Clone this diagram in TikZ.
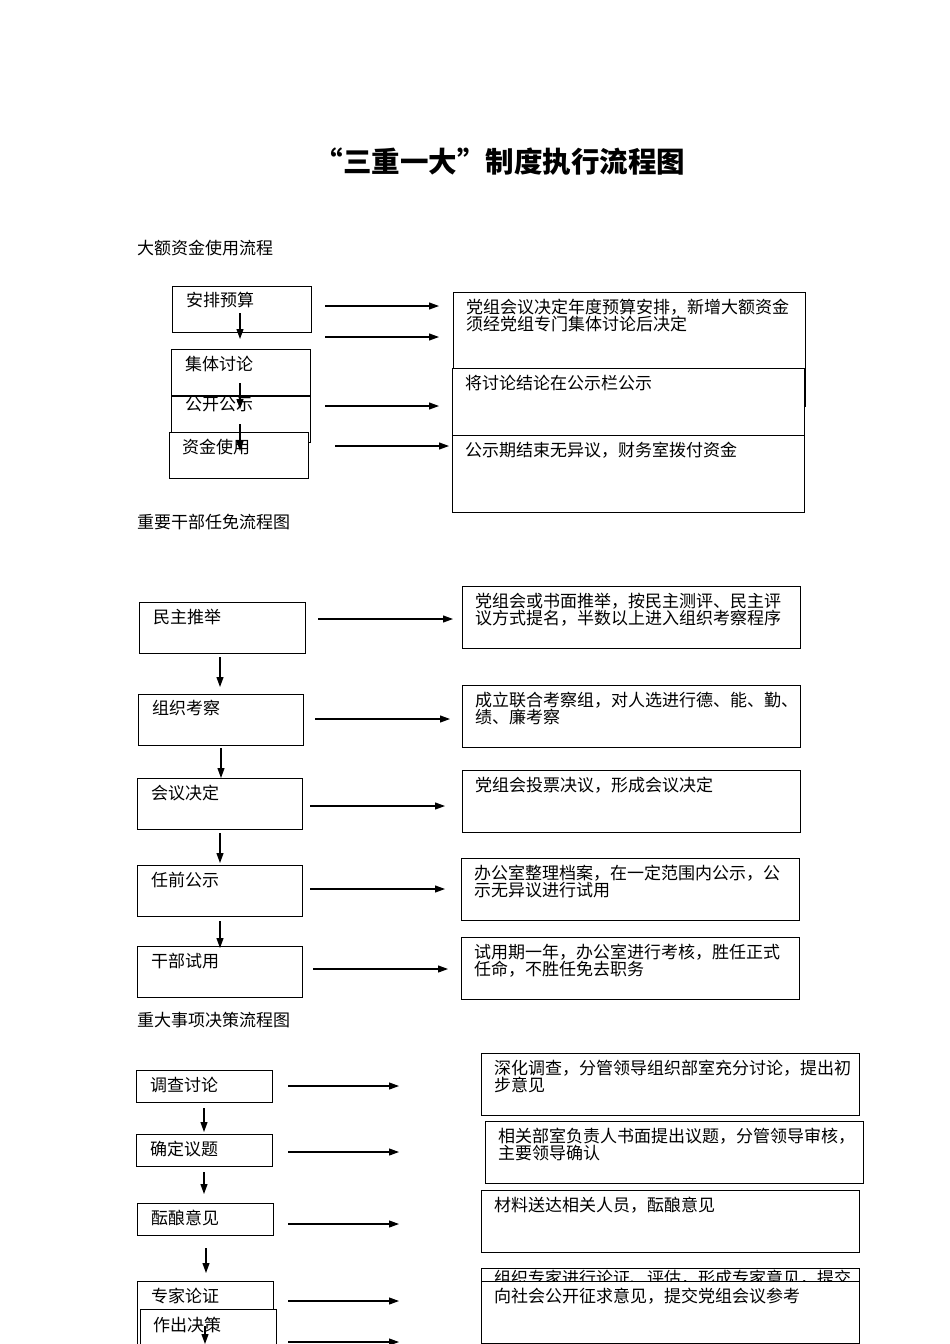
\documentclass[tikz,border=0pt]{standalone}
\usepackage{fontspec}
\setmainfont{Noto Sans CJK SC}
\usetikzlibrary{arrows.meta}
\begin{document}
\begin{tikzpicture}[x=1pt,y=-1pt,
  box/.style={draw, line width=1.1pt, fill=white, anchor=north west, inner sep=0pt, minimum width=#1},
  box/.default=139,
  txt/.style={anchor=base west, inner sep=0pt, align=left, font=\fontsize{17}{17}\selectfont},
  arr/.style={-{Triangle[length=10pt,width=7pt]}, line width=1.1pt}]
\useasboundingbox (0,0) rectangle (950,1344);
\clip (0,0) rectangle (950,1344);

% title and headers
\node[anchor=center, inner sep=0pt, font=\fontsize{28.5}{30}\selectfont\bfseries] (title) at (500,162) {“三重一大”制度执行流程图};
\node[txt] (h1) at (137,254) {大额资金使用流程};
\node[txt] (h2) at (137,528) {重要干部任免流程图};
\node[txt] (h3) at (137,1026) {重大事项决策流程图};

% ---------- section 1 ----------
\node[box, minimum height=46] (s1a) at (172,286) {};
\node[txt] (s1at) at (186,306) {安排预算};
\node[box, minimum height=46] (s1b) at (171,349) {};
\node[txt] (s1bt) at (185,370) {集体讨论};
\node[box, minimum height=46] (s1c) at (171,396) {};
\node[txt] (s1ct) at (185,410) {公开公示};
\node[box, minimum height=46] (s1d) at (169,432) {};
\node[txt] (s1dt) at (182,453) {资金使用};

\node[box=352, minimum height=114] (r1a) at (453,292) {};
\node[txt] (r1at) at (466,330) {党组会议决定年度预算安排，新增大额资金\\须经党组专门集体讨论后决定};
\node[box=352, minimum height=67] (r1b) at (452,368) {};
\node[txt] (r1bt) at (465,389) {将讨论结论在公示栏公示};
\node[box=352, minimum height=77] (r1c) at (452,435) {};
\node[txt] (r1ct) at (465,456) {公示期结束无异议，财务室拨付资金};

\coordinate (v1a) at (240,313); \coordinate (v1b) at (240,339);
\coordinate (v2a) at (240,383); \coordinate (v2b) at (240,409);
\coordinate (v3a) at (240,424); \coordinate (v3b) at (240,451);
\draw[arr] (v1a) -- (v1b);
\draw[arr] (v2a) -- (v2b);
\draw[arr] (v3a) -- (v3b);
\coordinate (h1a) at (325,306); \coordinate (h1b) at (439,306);
\coordinate (h2a) at (325,337); \coordinate (h2b) at (439,337);
\coordinate (h3a) at (325,406); \coordinate (h3b) at (439,406);
\coordinate (h4a) at (335,446); \coordinate (h4b) at (449,446);
\draw[arr] (h1a) -- (h1b);
\draw[arr] (h2a) -- (h2b);
\draw[arr] (h3a) -- (h3b);
\draw[arr] (h4a) -- (h4b);

% ---------- section 2 ----------
\node[box=166, minimum height=51] (s2a) at (139,602) {};
\node[txt] (s2at) at (153,623) {民主推举};
\node[box=165, minimum height=51] (s2b) at (138,694) {};
\node[txt] (s2bt) at (152,714) {组织考察};
\node[box=165, minimum height=51] (s2c) at (137,778) {};
\node[txt] (s2ct) at (151,799) {会议决定};
\node[box=165, minimum height=51] (s2d) at (137,865) {};
\node[txt] (s2dt) at (151,886) {任前公示};
\node[box=165, minimum height=51] (s2e) at (137,946) {};
\node[txt] (s2et) at (151,967) {干部试用};

\node[box=338, minimum height=62] (r2a) at (462,586) {};
\node[txt] (r2at) at (475,624) {党组会或书面推举，按民主测评、民主评\\议方式提名，半数以上进入组织考察程序};
\node[box=338, minimum height=62] (r2b) at (462,685) {};
\node[txt] (r2bt) at (475,723) {成立联合考察组，对人选进行德、能、勤、\\绩、廉考察};
\node[box=338, minimum height=62] (r2c) at (462,770) {};
\node[txt] (r2ct) at (475,791) {党组会投票决议，形成会议决定};
\node[box=338, minimum height=62] (r2d) at (461,858) {};
\node[txt] (r2dt) at (474,896) {办公室整理档案，在一定范围内公示，公\\示无异议进行试用};
\node[box=338, minimum height=62] (r2e) at (461,937) {};
\node[txt] (r2et) at (474,975) {试用期一年，办公室进行考核，胜任正式\\任命，不胜任免去职务};

\coordinate (w1a) at (220,657); \coordinate (w1b) at (220,687);
\coordinate (w2a) at (221,748); \coordinate (w2b) at (221,778);
\coordinate (w3a) at (220,833); \coordinate (w3b) at (220,863);
\coordinate (w4a) at (220,921); \coordinate (w4b) at (220,948);
\draw[arr] (w1a) -- (w1b);
\draw[arr] (w2a) -- (w2b);
\draw[arr] (w3a) -- (w3b);
\draw[arr] (w4a) -- (w4b);
\coordinate (g1a) at (318,619); \coordinate (g1b) at (453,619);
\coordinate (g2a) at (315,719); \coordinate (g2b) at (450,719);
\coordinate (g3a) at (310,806); \coordinate (g3b) at (445,806);
\coordinate (g4a) at (310,889); \coordinate (g4b) at (445,889);
\coordinate (g5a) at (313,969); \coordinate (g5b) at (448,969);
\draw[arr] (g1a) -- (g1b);
\draw[arr] (g2a) -- (g2b);
\draw[arr] (g3a) -- (g3b);
\draw[arr] (g4a) -- (g4b);
\draw[arr] (g5a) -- (g5b);

% ---------- section 3 ----------
\node[box=136, minimum height=32] (s3a) at (136,1070) {};
\node[txt] (s3at) at (150,1091) {调查讨论};
\node[box=136, minimum height=32] (s3b) at (136,1134) {};
\node[txt] (s3bt) at (150,1155) {确定议题};
\node[box=136, minimum height=32] (s3c) at (137,1203) {};
\node[txt] (s3ct) at (151,1224) {酝酿意见};
\node[box=136, minimum height=70] (s3d) at (137,1281) {};
\node[txt] (s3dt) at (151,1302) {专家论证};
\node[box=136, minimum height=45] (s3e) at (140,1309) {};
\node[txt] (s3et) at (153,1331) {作出决策};

\node[box=378, minimum height=62] (r3a) at (481,1053) {};
\node[txt] (r3at) at (494,1091) {深化调查，分管领导组织部室充分讨论，提出初\\步意见};
\node[box=378, minimum height=62] (r3b) at (485,1121) {};
\node[txt] (r3bt) at (498,1159) {相关部室负责人书面提出议题，分管领导审核，\\主要领导确认};
\node[box=378, minimum height=62] (r3c) at (481,1190) {};
\node[txt] (r3ct) at (494,1211) {材料送达相关人员，酝酿意见};
\node[box=378, minimum height=80] (r3d) at (481,1268) {};
\node[txt] (r3dt) at (494,1284) {组织专家进行论证、评估，形成专家意见，提交};
\node[box=378, minimum height=62] (r3e) at (481,1281) {};
\node[txt] (r3et) at (494,1302) {向社会公开征求意见，提交党组会议参考};

\coordinate (u1a) at (204,1108); \coordinate (u1b) at (204,1132);
\coordinate (u2a) at (204,1172); \coordinate (u2b) at (204,1194);
\coordinate (u3a) at (206,1248); \coordinate (u3b) at (206,1273);
\coordinate (u4a) at (205,1326); \coordinate (u4b) at (205,1344);
\draw[arr] (u1a) -- (u1b);
\draw[arr] (u2a) -- (u2b);
\draw[arr] (u3a) -- (u3b);
\draw[arr] (u4a) -- (u4b);
\coordinate (k1a) at (288,1086); \coordinate (k1b) at (399,1086);
\coordinate (k2a) at (288,1152); \coordinate (k2b) at (399,1152);
\coordinate (k3a) at (288,1224); \coordinate (k3b) at (399,1224);
\coordinate (k4a) at (288,1301); \coordinate (k4b) at (399,1301);
\coordinate (k5a) at (288,1342); \coordinate (k5b) at (399,1342);
\draw[arr] (k1a) -- (k1b);
\draw[arr] (k2a) -- (k2b);
\draw[arr] (k3a) -- (k3b);
\draw[arr] (k4a) -- (k4b);
\draw[arr] (k5a) -- (k5b);
\end{tikzpicture}
\end{document}
